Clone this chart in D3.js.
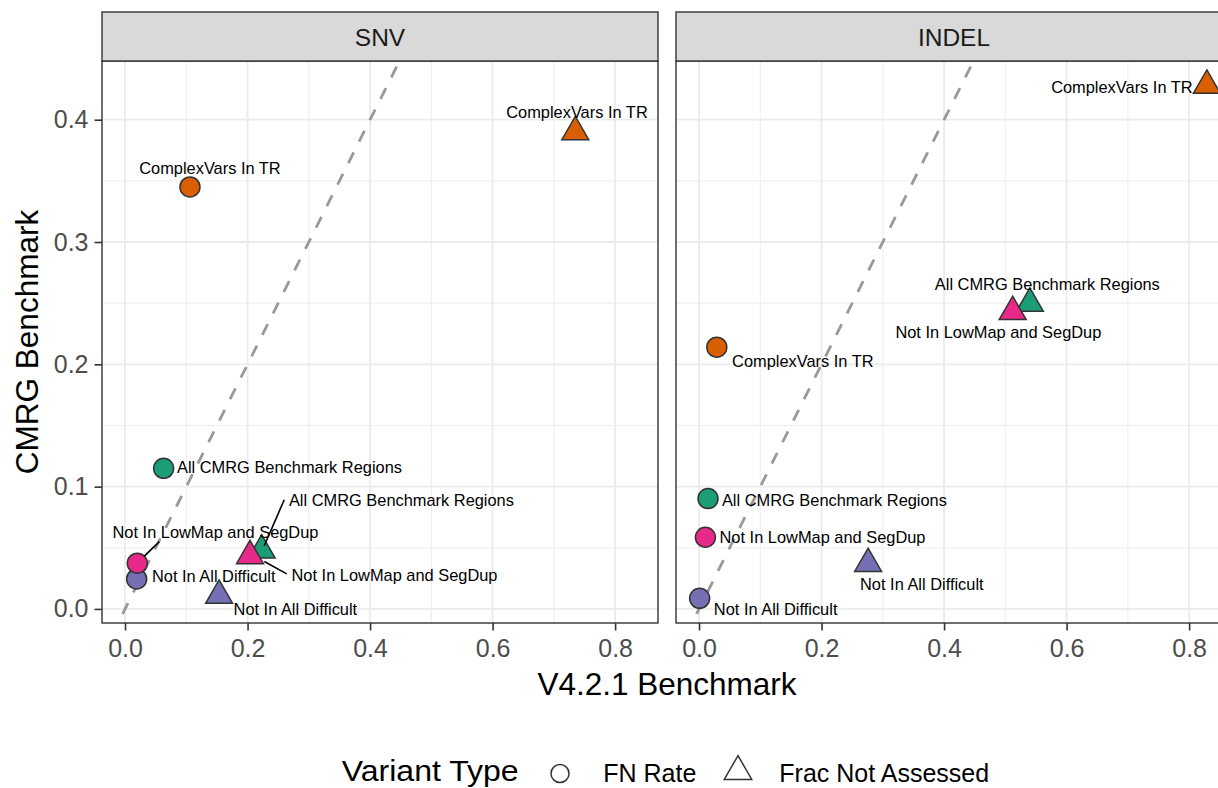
<!DOCTYPE html>
<html>
<head>
<meta charset="utf-8">
<script src="https://cdn.jsdelivr.net/npm/d3@7"></script>
<style>
  html, body { margin: 0; padding: 0; background: #fff; overflow: hidden; }
  svg { display: block; font-family: "Liberation Sans", Arial, Helvetica, sans-serif; }
</style>
</head>
<body>
<svg id="chart" width="1218" height="788"></svg>
<script>
// ---------------- data ----------------
const facets = ["SNV", "INDEL"];
const variantTypes = ["FN Rate", "Frac Not Assessed"];
const categories = ["All CMRG Benchmark Regions", "ComplexVars In TR", "Not In All Difficult", "Not In LowMap and SegDup"];
const categoryColors = ["#1B9E77", "#D95F02", "#7570B3", "#E7298A"];

// V4.2.1 Benchmark (x) and CMRG Benchmark (y), per facet and variant type, in category order
const snvFnRateX   = [0.063, 0.106, 0.019, 0.020];
const snvFnRateY   = [0.115, 0.345, 0.0245, 0.0374];
const snvFracX     = [0.223, 0.735, 0.1535, 0.204];
const snvFracY     = [0.048, 0.390, 0.011, 0.0434];
const indelFnRateX = [0.0147, 0.029, 0.001, 0.0104];
const indelFnRateY = [0.0902, 0.214, 0.0087, 0.0586];
const indelFracX   = [0.540, 0.829, 0.276, 0.512];
const indelFracY   = [0.2497, 0.428, 0.037, 0.243];

const xTicks = [0.0, 0.2, 0.4, 0.6, 0.8];
const xMinor = [0.1, 0.3, 0.5, 0.7];
const yTicks = [0.0, 0.1, 0.2, 0.3, 0.4];
const yMinor = [0.05, 0.15, 0.25, 0.35];

// ---------------- layout (label offsets in px, from the point) ----------------
// [dx to text centre, dy to baseline, segment start dx, dy, segment end dx, dy] (segment optional)
const labelLayout = {
  "SNV|FN Rate": [
    [125.9, 4.4], [20, -12.7], [77.1, 3.3], [78.2, -25, 7.1, -7.0, 22, -21.6]
  ],
  "SNV|Frac Not Assessed": [
    [139.8, -44.5, 2.6, -4.5, 22.6, -50.5], [1.7, -13.9], [76.3, 19.5], [144.5, 24.7, 14.3, 5.7, 36.7, 18]
  ],
  "INDEL|FN Rate": [
    [126.4, 7], [86, 20], [76, 16.7], [117.1, 5.4]
  ],
  "INDEL|Frac Not Assessed": [
    [17.5, -13.8], [-85, 7.8], [53.7, 26.2], [-14.3, 26.3]
  ]
};

const dataByFacet = {
  "SNV":   { "FN Rate": [snvFnRateX, snvFnRateY], "Frac Not Assessed": [snvFracX, snvFracY] },
  "INDEL": { "FN Rate": [indelFnRateX, indelFnRateY], "Frac Not Assessed": [indelFracX, indelFracY] }
};

// ---------------- drawing ----------------
const svg = d3.select("#chart");
const panelTop = 61, panelBottom = 623, stripTop = 12;
const panelRanges = [[102, 658], [676, 1232]];
const xDomain = [-0.0376, 0.870];
const yDomain = [-0.0115, 0.448];
const y = d3.scaleLinear().domain(yDomain).range([panelBottom, panelTop]);

const R = 10;
const triPath = (r) => `M0,${-1.5551 * r}L${1.3468 * r},${0.7776 * r}L${-1.3468 * r},${0.7776 * r}Z`;

const defs = svg.append("defs");

facets.forEach((facet, fi) => {
  const [x0, x1] = panelRanges[fi];
  const x = d3.scaleLinear().domain(xDomain).range([x0, x1]);
  const g = svg.append("g");

  defs.append("clipPath").attr("id", "clip" + fi)
    .append("rect").attr("x", x0).attr("y", panelTop).attr("width", x1 - x0).attr("height", panelBottom - panelTop);

  // background
  g.append("rect").attr("x", x0).attr("y", panelTop).attr("width", x1 - x0).attr("height", panelBottom - panelTop)
    .attr("fill", "#fff");

  // minor grid
  g.selectAll(".xminor").data(xMinor).join("line")
    .attr("x1", d => x(d)).attr("x2", d => x(d)).attr("y1", panelTop).attr("y2", panelBottom)
    .attr("stroke", "#EBEBEB").attr("stroke-width", 0.9);
  g.selectAll(".yminor").data(yMinor).join("line")
    .attr("y1", d => y(d)).attr("y2", d => y(d)).attr("x1", x0).attr("x2", x1)
    .attr("stroke", "#EBEBEB").attr("stroke-width", 0.9);
  // major grid
  g.selectAll(".xmajor").data(xTicks).join("line")
    .attr("x1", d => x(d)).attr("x2", d => x(d)).attr("y1", panelTop).attr("y2", panelBottom)
    .attr("stroke", "#EBEBEB").attr("stroke-width", 1.8);
  g.selectAll(".ymajor").data(yTicks).join("line")
    .attr("y1", d => y(d)).attr("y2", d => y(d)).attr("x1", x0).attr("x2", x1)
    .attr("stroke", "#EBEBEB").attr("stroke-width", 1.8);

  // reference line y = x
  g.append("line")
    .attr("clip-path", `url(#clip${fi})`)
    .attr("x1", x(xDomain[0])).attr("y1", y(xDomain[0]))
    .attr("x2", x(xDomain[1])).attr("y2", y(xDomain[1]))
    .attr("stroke", "#999999").attr("stroke-width", 2.8)
    .attr("stroke-dasharray", "12 12").attr("stroke-dashoffset", 2);

  // points
  const pts = [];
  variantTypes.forEach(vt => {
    const [xs, ys] = dataByFacet[facet][vt];
    categories.forEach((c, ci) => {
      pts.push({ vt, ci, xv: xs[ci], yv: ys[ci], lay: labelLayout[facet + "|" + vt][ci] });
    });
  });
  pts.sort((a, b) => a.ci - b.ci);

  const pg = g.append("g");
  pts.forEach(p => {
    const px = x(p.xv), py = y(p.yv);
    if (p.vt === "FN Rate") {
      pg.append("circle").attr("cx", px).attr("cy", py).attr("r", R)
        .attr("fill", categoryColors[p.ci]).attr("stroke", "#333333").attr("stroke-width", 1.5);
    } else {
      pg.append("path").attr("d", triPath(R)).attr("transform", `translate(${px},${py})`)
        .attr("fill", categoryColors[p.ci]).attr("stroke", "#333333").attr("stroke-width", 1.5)
        .attr("stroke-linejoin", "miter");
    }
  });

  // labels + segments
  const lg = g.append("g");
  pts.forEach(p => {
    const px = x(p.xv), py = y(p.yv);
    const L = p.lay;
    if (L.length > 2) {
      lg.append("line")
        .attr("x1", px + L[2]).attr("y1", py + L[3])
        .attr("x2", px + L[4]).attr("y2", py + L[5])
        .attr("stroke", "#000").attr("stroke-width", 1.6);
    }
    lg.append("text").attr("x", px + L[0]).attr("y", py + L[1])
      .attr("text-anchor", "middle").attr("font-size", 16.4).attr("fill", "#000")
      .text(categories[p.ci]);
  });

  // panel border
  g.append("rect").attr("x", x0).attr("y", panelTop).attr("width", x1 - x0).attr("height", panelBottom - panelTop)
    .attr("fill", "none").attr("stroke", "#333333").attr("stroke-width", 1.4);

  // strip
  g.append("rect").attr("x", x0).attr("y", stripTop).attr("width", x1 - x0).attr("height", panelTop - stripTop)
    .attr("fill", "#D9D9D9").attr("stroke", "#333333").attr("stroke-width", 1.4);
  g.append("text").attr("x", (x0 + x1) / 2).attr("y", 46).attr("text-anchor", "middle")
    .attr("font-size", 24.5).attr("fill", "#1A1A1A").text(facet);

  // x axis
  const xa = g.append("g").attr("transform", `translate(0,${panelBottom})`)
    .call(d3.axisBottom(x).tickValues(xTicks).tickFormat(d3.format(".1f")).tickSize(7.5).tickPadding(9));
  xa.select(".domain").remove();
  xa.selectAll(".tick line").attr("stroke", "#333333").attr("stroke-width", 1.6);
  xa.selectAll(".tick text").attr("font-size", 25).attr("fill", "#4D4D4D")
    .attr("font-family", "Liberation Sans, Arial, sans-serif");

  // y axis (left panel only)
  if (fi === 0) {
    const ya = g.append("g").attr("transform", `translate(${x0},0)`)
      .call(d3.axisLeft(y).tickValues(yTicks).tickFormat(d3.format(".1f")).tickSize(7.5).tickPadding(6));
    ya.select(".domain").remove();
    ya.selectAll(".tick line").attr("stroke", "#333333").attr("stroke-width", 1.6);
    ya.selectAll(".tick text").attr("font-size", 25).attr("fill", "#4D4D4D")
      .attr("font-family", "Liberation Sans, Arial, sans-serif");
  }
});

// axis titles
svg.append("text").attr("x", 667).attr("y", 695).attr("text-anchor", "middle")
  .attr("font-size", 31.5).attr("fill", "#000").text("V4.2.1 Benchmark");
svg.append("text").attr("transform", `translate(38,342) rotate(-90)`).attr("text-anchor", "middle")
  .attr("font-size", 31.5).attr("fill", "#000").text("CMRG Benchmark");

// legend
const leg = svg.append("g");
leg.append("text").attr("x", 341.7).attr("y", 781).attr("font-size", 29)
  .attr("textLength", 177).attr("lengthAdjust", "spacingAndGlyphs")
  .attr("fill", "#000").text("Variant Type");
leg.append("circle").attr("cx", 560).attr("cy", 773.5).attr("r", 9)
  .attr("fill", "none").attr("stroke", "#333333").attr("stroke-width", 1.5);
leg.append("text").attr("x", 603.3).attr("y", 782).attr("font-size", 25).attr("fill", "#000").text(variantTypes[0]);
leg.append("path").attr("d", triPath(10.2)).attr("transform", "translate(738,771.5)")
  .attr("fill", "none").attr("stroke", "#333333").attr("stroke-width", 1.5);
leg.append("text").attr("x", 779.3).attr("y", 782).attr("font-size", 25).attr("fill", "#000").text(variantTypes[1]);
</script>
</body>
</html>
